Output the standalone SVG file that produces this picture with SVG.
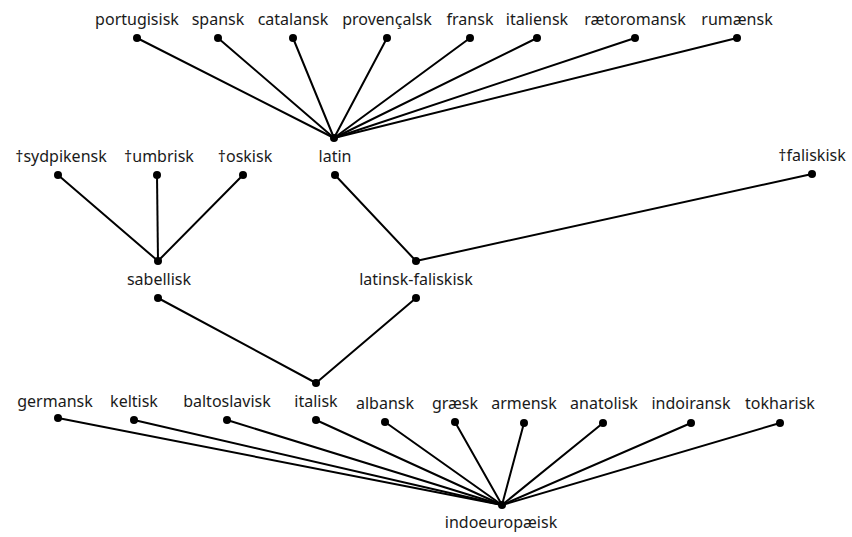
<svg xmlns="http://www.w3.org/2000/svg" width="852" height="537" viewBox="0 0 852 537">
<style>
text{font-family:"Noto Sans","Open Sans",sans-serif;font-size:16px;fill:#1a1a1a;text-anchor:middle}
.e line{stroke:#000;stroke-width:2;stroke-linecap:round}
circle{fill:#000}
</style>
<rect width="852" height="537" fill="#fff"/>
<g id="connectors" class="e">
<line x1="334" y1="138" x2="137" y2="38"/>
<line x1="334" y1="138" x2="218" y2="38"/>
<line x1="334" y1="138" x2="293" y2="38"/>
<line x1="334" y1="138" x2="387" y2="38"/>
<line x1="334" y1="138" x2="470" y2="38"/>
<line x1="334" y1="138" x2="537" y2="38"/>
<line x1="334" y1="138" x2="635" y2="38"/>
<line x1="334" y1="138" x2="737" y2="38"/>
<line x1="158" y1="261" x2="58" y2="175"/>
<line x1="158" y1="261" x2="157" y2="175"/>
<line x1="158" y1="261" x2="243" y2="175"/>
<line x1="416" y1="261" x2="335" y2="175"/>
<line x1="416" y1="261" x2="812" y2="174"/>
<line x1="316" y1="383" x2="158" y2="298"/>
<line x1="316" y1="383" x2="416" y2="298"/>
<line x1="502" y1="505" x2="58" y2="418"/>
<line x1="502" y1="505" x2="134" y2="420"/>
<line x1="502" y1="505" x2="227" y2="420"/>
<line x1="502" y1="505" x2="316" y2="420"/>
<line x1="502" y1="505" x2="385" y2="422"/>
<line x1="502" y1="505" x2="455" y2="422"/>
<line x1="502" y1="505" x2="524" y2="423"/>
<line x1="502" y1="505" x2="603" y2="423"/>
<line x1="502" y1="505" x2="691" y2="423"/>
<line x1="502" y1="505" x2="780" y2="423"/>
</g>
<g id="portugisisk"><text x="137" y="25">portugisisk</text><circle cx="137" cy="38" r="4"/></g>
<g id="spansk"><text x="218" y="25">spansk</text><circle cx="218" cy="38" r="4"/></g>
<g id="catalansk"><text x="293" y="25">catalansk</text><circle cx="293" cy="38" r="4"/></g>
<g id="provencalsk"><text x="387" y="25">provençalsk</text><circle cx="387" cy="38" r="4"/></g>
<g id="fransk"><text x="470" y="25">fransk</text><circle cx="470" cy="38" r="4"/></g>
<g id="italiensk"><text x="537" y="25">italiensk</text><circle cx="537" cy="38" r="4"/></g>
<g id="raetoromansk"><text x="635" y="25">rætoromansk</text><circle cx="635" cy="38" r="4"/></g>
<g id="rumaensk"><text x="737" y="25">rumænsk</text><circle cx="737" cy="38" r="4"/></g>
<g id="latin"><circle cx="334" cy="138" r="4"/><text x="335" y="162">latin</text><circle cx="335" cy="175" r="4"/></g>
<g id="sydpikensk"><text x="61" y="162">†sydpikensk</text><circle cx="58" cy="175" r="4"/></g>
<g id="umbrisk"><text x="159" y="162">†umbrisk</text><circle cx="157" cy="175" r="4"/></g>
<g id="oskisk"><text x="245" y="162">†oskisk</text><circle cx="243" cy="175" r="4"/></g>
<g id="faliskisk"><text x="812" y="161">†faliskisk</text><circle cx="812" cy="174" r="4"/></g>
<g id="sabellisk"><circle cx="158" cy="261" r="4"/><text x="159" y="285">sabellisk</text><circle cx="158" cy="298" r="4"/></g>
<g id="latinsk-faliskisk"><circle cx="416" cy="261" r="4"/><text x="416" y="285">latinsk-faliskisk</text><circle cx="416" cy="298" r="4"/></g>
<g id="italisk"><circle cx="316" cy="383" r="4"/><text x="316" y="407">italisk</text><circle cx="316" cy="420" r="4"/></g>
<g id="germansk"><text x="55" y="407">germansk</text><circle cx="58" cy="418" r="4"/></g>
<g id="keltisk"><text x="134" y="407">keltisk</text><circle cx="134" cy="420" r="4"/></g>
<g id="baltoslavisk"><text x="227" y="407">baltoslavisk</text><circle cx="227" cy="420" r="4"/></g>
<g id="albansk"><text x="385" y="409">albansk</text><circle cx="385" cy="422" r="4"/></g>
<g id="graesk"><text x="455" y="409">græsk</text><circle cx="455" cy="422" r="4"/></g>
<g id="armensk"><text x="524" y="409">armensk</text><circle cx="524" cy="423" r="4"/></g>
<g id="anatolisk"><text x="604" y="409">anatolisk</text><circle cx="603" cy="423" r="4"/></g>
<g id="indoiransk"><text x="691" y="409">indoiransk</text><circle cx="691" cy="423" r="4"/></g>
<g id="tokharisk"><text x="780" y="409">tokharisk</text><circle cx="780" cy="423" r="4"/></g>
<g id="indoeuropaeisk"><circle cx="502" cy="505" r="4"/><text x="501" y="528">indoeuropæisk</text></g>
</svg>
